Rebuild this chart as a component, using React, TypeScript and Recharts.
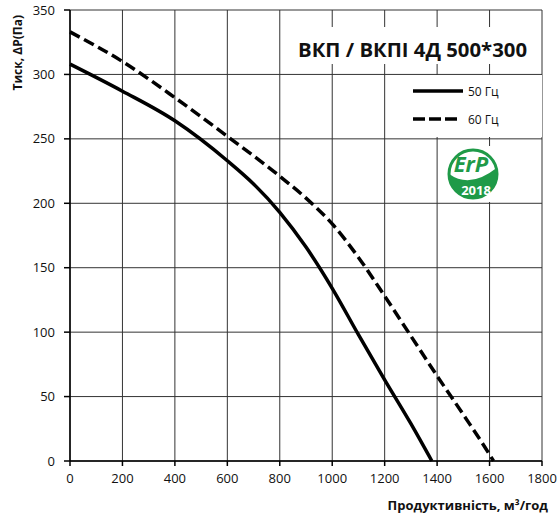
import { LineChart, Line, XAxis, YAxis, CartesianGrid, Legend, Label } from "recharts";

// 50 Гц curve
const flow50 = [0, 200, 400, 600, 700, 800, 900, 1000, 1100, 1200, 1300, 1380];
const pressure50 = [308, 287, 264, 233, 215, 193, 166, 134, 98, 63, 29, 0];
// 60 Гц curve
const flow60 = [0, 200, 400, 600, 800, 900, 1000, 1100, 1200, 1300, 1400, 1500, 1600, 1615];
const pressure60 = [333, 310, 282, 252, 221, 204, 184, 158, 128, 97, 66, 36, 5, 0];

const xTicks = [0, 200, 400, 600, 800, 1000, 1200, 1400, 1600, 1800];
const yTicks = [0, 50, 100, 150, 200, 250, 300, 350];

const title = "ВКП / ВКПІ 4Д 500*300";
const xLabel = "Продуктивність, м³/год";
const yLabel = "Тиск, ΔP(Па)";

const pts50 = flow50.map((x, i) => ({ x, y: pressure50[i] }));
const pts60 = flow60.map((x, i) => ({ x, y: pressure60[i] }));

const FONT = "'Open Sans', sans-serif";
const GREEN = "#1f9a48";

function LegendBox({ payload }: { payload?: Array<{ value: string; payload?: { strokeDasharray?: string } }> }) {
  return (
    <svg width={147} height={62} style={{ display: "block" }}>
      {(payload ?? []).map((p, i) => {
        const y = 16 + i * 28;
        const dashed = !!p.payload?.strokeDasharray;
        return (
          <g key={p.value}>
            <line
              x1={18}
              x2={dashed ? 63 : 68}
              y1={y}
              y2={y}
              stroke="#000"
              strokeWidth={3.5}
              strokeDasharray={dashed ? "12 4" : undefined}
            />
            <text x={73} y={y + 5} fontSize={12} fontFamily={FONT} fill="#111">
              {p.value}
            </text>
          </g>
        );
      })}
    </svg>
  );
}

export default function App() {
  return (
    <div style={{ position: "absolute", left: 0, top: 0, width: 557, height: 519, background: "#fff" }}>
      <LineChart width={557} height={519} margin={{ top: 10, right: 15, bottom: 0, left: 0 }}>
        <CartesianGrid stroke="#333" strokeWidth={1} />
        <XAxis
          type="number"
          dataKey="x"
          domain={[0, 1800]}
          ticks={xTicks}
          interval={0}
          height={58}
          tickSize={5}
          tickMargin={8}
          stroke="#000"
          strokeWidth={1.5}
          tick={{ fill: "#111", fontSize: 13, fontFamily: FONT }}
        >
          <Label
            content={() => (
              <text x={548} y={510} textAnchor="end" fontSize={13} fontWeight="bold" fontFamily={FONT} fill="#111">
                {xLabel}
              </text>
            )}
          />
        </XAxis>
        <YAxis
          type="number"
          dataKey="y"
          domain={[0, 350]}
          ticks={yTicks}
          interval={0}
          width={70}
          tickSize={6}
          tickMargin={9}
          stroke="#000"
          strokeWidth={1.5}
          tick={{ fill: "#111", fontSize: 13, fontFamily: FONT }}
        >
          <Label
            content={() => (
              <text
                transform="translate(22,15) rotate(-90)"
                textAnchor="end"
                fontSize={12}
                fontWeight="bold"
                fontFamily={FONT}
                fill="#111"
              >
                {yLabel}
              </text>
            )}
          />
        </YAxis>
        <Legend
          layout="horizontal"
          align="center"
          verticalAlign="middle"
          content={(props: any) => <LegendBox payload={props.payload} />}
          wrapperStyle={{ position: "absolute", left: 395, top: 75, width: 147, height: 62, background: "#fff" }}
        />
        <Line
          data={pts50}
          dataKey="y"
          name="50 Гц"
          type="monotone"
          stroke="#000"
          strokeWidth={3.5}
          dot={false}
          activeDot={false}
          isAnimationActive={false}
        />
        <Line
          data={pts60}
          dataKey="y"
          name="60 Гц"
          type="monotone"
          stroke="#000"
          strokeWidth={3.5}
          strokeDasharray="11 5"
          dot={false}
          activeDot={false}
          isAnimationActive={false}
        />
      </LineChart>
      <svg
        width={557}
        height={519}
        style={{ position: "absolute", left: 0, top: 0, pointerEvents: "none" }}
      >
        <rect x={290} y={27} width={251} height={37} fill="#fff" />
        <text
          x={298}
          y={57}
          fontSize={20}
          fontWeight="bold"
          fontFamily={FONT}
          fill="#111"
          textLength={229}
          lengthAdjust="spacingAndGlyphs"
        >
          {title}
        </text>
        <rect x={445} y={146} width={56} height={56} fill="#fff" />
        <circle cx={473} cy={174} r={24} fill="none" stroke={GREEN} strokeWidth={3} />
        <path d="M 449.2 174 Q 470 189 496.5 168 A 24 24 0 1 1 449.2 174 Z" fill={GREEN} />
        <text x={471} y={172} textAnchor="middle" fontSize={22} fontWeight="bold" fontStyle="italic" fontFamily={FONT} fill={GREEN}>
          ErP
        </text>
        <text x={476} y={195} textAnchor="middle" fontSize={13} fontWeight="bold" fontFamily={FONT} fill="#fff">
          2018
        </text>
      </svg>
    </div>
  );
}
